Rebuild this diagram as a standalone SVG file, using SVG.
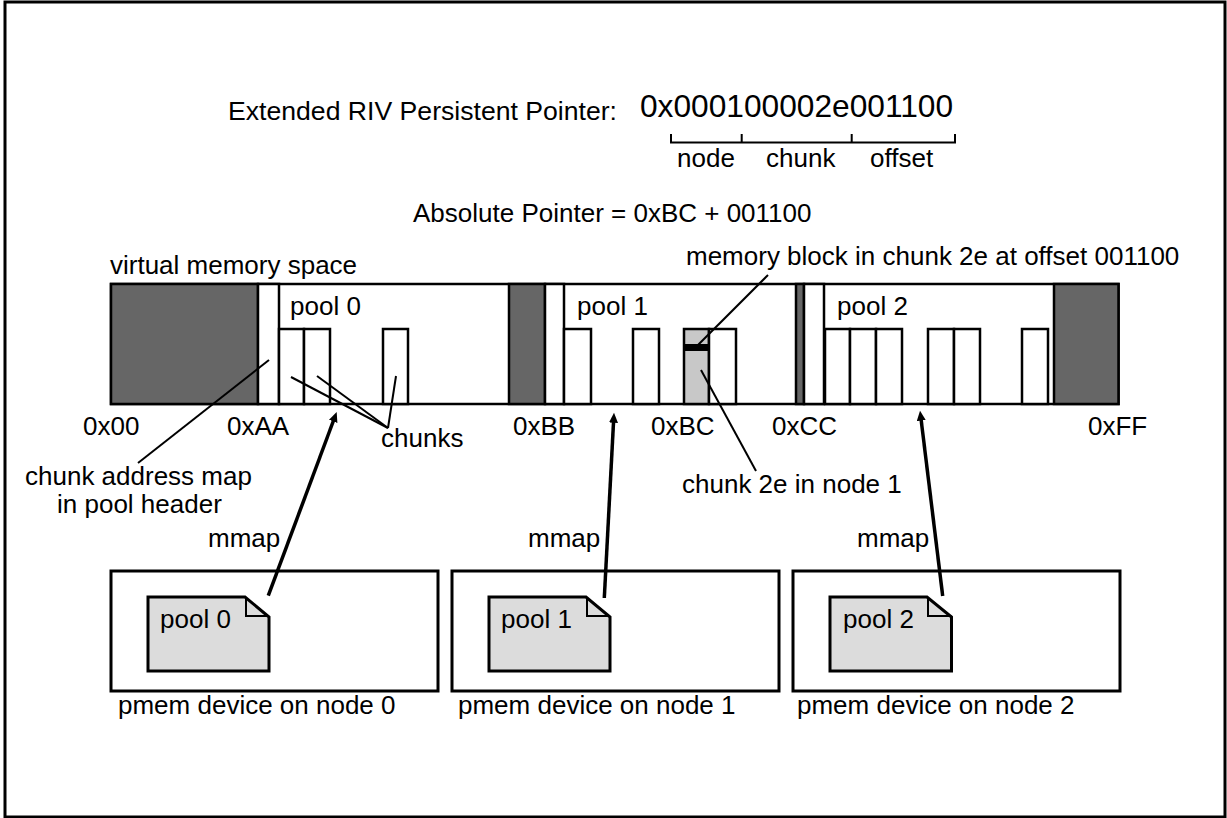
<svg xmlns="http://www.w3.org/2000/svg" width="1227" height="818" viewBox="0 0 1227 818">
<style>
text{font-family:"Liberation Sans",Arial,sans-serif;font-size:26px;fill:#000}
.dark{fill:#666;stroke:#000;stroke-width:2.5}
.wh{fill:#fff;stroke:#000;stroke-width:2.5}
.gr{fill:#c8c8c8;stroke:#000;stroke-width:2.5}
.box{fill:#fff;stroke:#000;stroke-width:3}
.doc{fill:#dcdcdc;stroke:#000;stroke-width:3;stroke-linejoin:miter}
.thin{stroke:#000;stroke-width:2;fill:none}
.thick{stroke:#000;stroke-width:3.5;fill:none;marker-end:url(#ah)}
</style>
<defs>
<marker id="ah" markerUnits="userSpaceOnUse" markerWidth="11" markerHeight="10" refX="2" refY="4.5" orient="auto">
<path d="M0,0 L10,4.5 L0,9 z" fill="#000"/>
</marker>
</defs>
<rect x="0" y="0" width="1227" height="818" fill="#fff"/>
<rect x="5" y="2" width="1220" height="815" fill="none" stroke="#000" stroke-width="3"/>

<g id="pointer">
<text x="228" y="120" textLength="389" lengthAdjust="spacingAndGlyphs">Extended RIV Persistent Pointer:</text>
<text x="640" y="117" style="font-size:31.5px" textLength="313" lengthAdjust="spacingAndGlyphs">0x000100002e001100</text>
<path class="thin" d="M671,134 V142.5 H955 V134 M741.7,134 V142.5 M851.7,134 V142.5"/>
<text x="677" y="167">node</text>
<text x="766" y="167">chunk</text>
<text x="870" y="167">offset</text>
<text x="413" y="222">Absolute Pointer = 0xBC + 001100</text>
</g>

<g id="vmspace">
<text x="110" y="274">virtual memory space</text>
<rect class="wh" x="111" y="284" width="1007.5" height="120"/>
<rect class="dark" x="111" y="284" width="147" height="120"/>
<rect class="dark" x="509" y="284" width="36" height="120"/>
<rect class="dark" x="796" y="284" width="8" height="120"/>
<rect class="dark" x="1054" y="284" width="64.5" height="120"/>
<rect class="wh" x="258" y="284" width="21" height="120"/>
<rect class="wh" x="545" y="284" width="19" height="120"/>
<rect class="wh" x="804" y="284" width="20" height="120"/>
</g>

<g id="pool0">
<text x="290" y="315">pool 0</text>
<rect class="wh" x="279" y="329" width="25" height="75"/>
<rect class="wh" x="304" y="329" width="26" height="75"/>
<rect class="wh" x="383" y="329" width="25" height="75"/>
</g>

<g id="pool1">
<text x="577" y="315">pool 1</text>
<rect class="wh" x="564" y="329" width="27" height="75"/>
<rect class="wh" x="633" y="329" width="26" height="75"/>
<rect class="gr" x="684" y="329" width="25" height="75"/>
<rect class="wh" x="709" y="329" width="27" height="75"/>
<rect x="684" y="344" width="25" height="7" fill="#000"/>
</g>

<g id="pool2">
<text x="837" y="315">pool 2</text>
<rect class="wh" x="825" y="329" width="25" height="75"/>
<rect class="wh" x="850" y="329" width="26" height="75"/>
<rect class="wh" x="876" y="329" width="26" height="75"/>
<rect class="wh" x="928" y="329" width="26" height="75"/>
<rect class="wh" x="954" y="329" width="26" height="75"/>
<rect class="wh" x="1022" y="329" width="26" height="75"/>
</g>

<g id="addresses">
<text x="83" y="435">0x00</text>
<text x="227" y="435">0xAA</text>
<text x="513" y="435">0xBB</text>
<text x="651" y="435">0xBC</text>
<text x="772" y="435">0xCC</text>
<text x="1088" y="435">0xFF</text>
</g>

<g id="labels">
<text x="381" y="447">chunks</text>
<text x="25" y="485">chunk address map</text>
<text x="57" y="513">in pool header</text>
<text x="686" y="265">memory block in chunk 2e at offset 001100</text>
<text x="682" y="493">chunk 2e in node 1</text>
</g>

<g id="device0">
<rect class="box" x="111" y="571" width="327" height="120"/>
<path class="doc" d="M148,597 H245 L269,617 V671 H148 Z"/>
<path class="thin" d="M246,597 V616 H269"/>
<text x="160" y="628">pool 0</text>
<text x="118" y="714">pmem device on node 0</text>
</g>

<g id="device1">
<rect class="box" x="452" y="571" width="327" height="120"/>
<path class="doc" d="M489,597 H586 L610,617 V671 H489 Z"/>
<path class="thin" d="M587,597 V616 H610"/>
<text x="501" y="628">pool 1</text>
<text x="458" y="714">pmem device on node 1</text>
</g>

<g id="device2">
<rect class="box" x="793" y="571" width="327" height="120"/>
<path class="doc" d="M830,597 H927 L951.5,617 V671 H830 Z"/>
<path class="thin" d="M928,597 V616 H951.5"/>
<text x="843" y="628">pool 2</text>
<text x="797" y="714">pmem device on node 2</text>
</g>

<g id="connectors">
<line class="thin" x1="269" y1="360" x2="138" y2="463"/>
<line class="thin" x1="388" y1="428" x2="291" y2="377"/>
<line class="thin" x1="388" y1="428" x2="317" y2="376"/>
<line class="thin" x1="388" y1="428" x2="396" y2="376"/>
<line class="thin" x1="697" y1="346" x2="768" y2="275"/>
<line class="thin" x1="701" y1="370" x2="756" y2="471"/>
<line class="thick" x1="268.3" y1="595.7" x2="333.9" y2="419.5"/>
<line class="thick" x1="604.3" y1="598" x2="613.6" y2="420.7"/>
<line class="thick" x1="942.7" y1="596" x2="921" y2="418.6"/>
<text x="208" y="547">mmap</text>
<text x="528" y="547">mmap</text>
<text x="857" y="547">mmap</text>
</g>
</svg>
